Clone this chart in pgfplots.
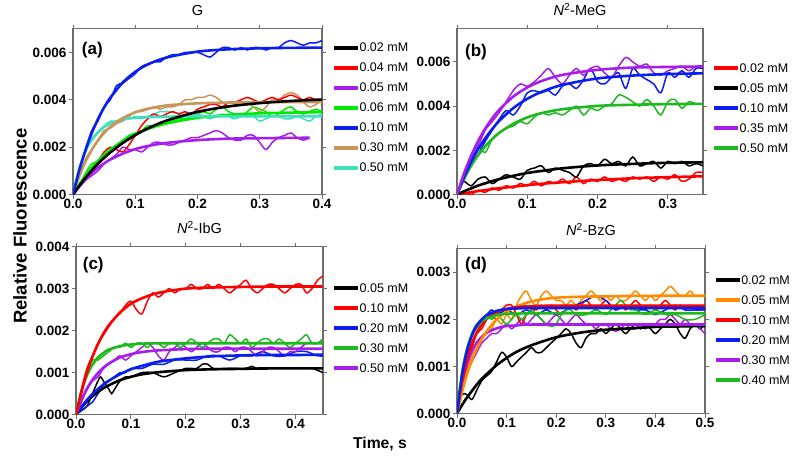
\documentclass[border=0pt]{standalone}
\usepackage{fontspec}
\setmainfont{Liberation Sans}
\usepackage{pgfplots}
\pgfplotsset{compat=1.18}
\definecolor{cpurple}{RGB}{165,30,235}
\definecolor{cgreenA}{RGB}{0,235,0}
\definecolor{cgreen}{RGB}{30,185,30}
\definecolor{cblue}{RGB}{10,30,240}
\definecolor{ctan}{RGB}{200,150,90}
\definecolor{cturq}{RGB}{64,224,190}
\definecolor{corange}{RGB}{255,140,0}
\definecolor{cred}{RGB}{255,0,0}
\definecolor{axgray}{RGB}{110,110,110}
\tikzset{plabel/.style={anchor=west, inner sep=0pt, font=\bfseries\fontsize{17}{20}\selectfont}}
\pgfplotsset{
  panel/.style={
    scale only axis, anchor=south west, clip=true,
    axis line style={axgray, line width=1.1pt},
    every tick/.style={axgray, line width=1pt},
    tick align=outside, major tick length=4pt,
    scaled ticks=false,
    /pgf/number format/assume math mode=true,
    ticklabel style={font=\bfseries\fontsize{13.5}{15}\selectfont, black},
    yticklabel style={/pgf/number format/fixed, /pgf/number format/fixed zerofill, /pgf/number format/precision=3, xshift=1pt},
    xticklabel style={/pgf/number format/fixed, /pgf/number format/fixed zerofill, /pgf/number format/precision=1, yshift=3pt},
    title style={font=\fontsize{14.5}{16}\selectfont, anchor=base, at={(0.5,1)}, yshift=7pt},
    legend style={draw=none, fill=none, font=\fontsize{12.5}{15}\selectfont, anchor=north west, inner sep=0pt, row sep=9pt, column sep=1pt, nodes={inner sep=1pt, text height=9pt, text depth=0pt}},
    legend cell align=left,
    legend image code/.code={\fill[#1] (0pt,-1.5pt) rectangle (23pt,1.5pt);},
  },
  noisy/.style={line width=1.5pt, forget plot, no markers, smooth},
  fitc/.style={line width=2.6pt, forget plot, no markers, smooth},
}
\begin{document}
\begin{tikzpicture}
\path (0pt,0pt) rectangle (800pt,458pt);
% ---------------- (a) G ----------------
\begin{axis}[panel, at={(73pt,265pt)}, width=249pt, height=166pt,
  xmin=0, xmax=0.4, ymin=0, ymax=0.007,
  xtick={0,0.1,0.2,0.3,0.4}, ytick={0,0.002,0.004,0.006},
  title={G}, legend style={at={(1.048,0.922)}}]
\addlegendimage{black}\addlegendentry{0.02 mM}
\addlegendimage{cred}\addlegendentry{0.04 mM}
\addlegendimage{cpurple}\addlegendentry{0.05 mM}
\addlegendimage{cgreenA}\addlegendentry{0.06 mM}
\addlegendimage{cblue}\addlegendentry{0.10 mM}
\addlegendimage{ctan}\addlegendentry{0.30 mM}
\addlegendimage{cturq}\addlegendentry{0.50 mM}
% noisy traces
\addplot[noisy, cpurple] coordinates {(0,0)(0.01,0.0003)(0.02,0.0006)(0.03,0.0008)(0.04,0.0010)(0.05,0.0013)(0.06,0.0015)(0.07,0.0017)(0.08,0.0020)(0.09,0.0019)(0.10,0.0019)(0.11,0.0018)(0.12,0.0020)(0.13,0.0022)(0.14,0.0022)(0.15,0.0021)(0.16,0.0021)(0.17,0.0022)(0.18,0.0023)(0.19,0.0024)(0.20,0.0024)(0.21,0.0025)(0.22,0.0026)(0.23,0.0027)(0.24,0.0026)(0.25,0.0024)(0.26,0.0023)(0.27,0.0023)(0.28,0.0025)(0.29,0.0025)(0.30,0.0022)(0.31,0.0019)(0.32,0.0022)(0.33,0.0024)(0.34,0.0025)(0.35,0.0026)(0.36,0.0024)(0.37,0.0023)(0.38,0.0024)};
\addplot[noisy, cgreenA] coordinates {(0,0)(0.01,0.0004)(0.02,0.0009)(0.03,0.0013)(0.04,0.0014)(0.05,0.0017)(0.06,0.0019)(0.07,0.0021)(0.08,0.0023)(0.09,0.0025)(0.10,0.0026)(0.11,0.0027)(0.12,0.0029)(0.13,0.0029)(0.14,0.0030)(0.15,0.0031)(0.16,0.0031)(0.17,0.0032)(0.18,0.0032)(0.19,0.0033)(0.20,0.0034)(0.21,0.0035)(0.22,0.0034)(0.23,0.0036)(0.24,0.0037)(0.25,0.0035)(0.26,0.0034)(0.27,0.0033)(0.28,0.0035)(0.29,0.0037)(0.30,0.0036)(0.31,0.0035)(0.32,0.0033)(0.33,0.0034)(0.34,0.0036)(0.35,0.0037)(0.36,0.0035)(0.37,0.0034)(0.38,0.0035)(0.39,0.0036)(0.40,0.0035)};
\addplot[noisy, cturq] coordinates {(0,0)(0.01,0.0011)(0.02,0.0019)(0.03,0.0023)(0.04,0.0026)(0.05,0.0029)(0.06,0.0031)(0.07,0.0031)(0.08,0.0032)(0.09,0.0032)(0.10,0.0033)(0.11,0.0032)(0.12,0.0033)(0.13,0.0034)(0.14,0.0035)(0.15,0.0035)(0.16,0.0035)(0.17,0.0034)(0.18,0.0033)(0.19,0.0033)(0.20,0.0034)(0.21,0.0033)(0.22,0.0032)(0.23,0.0033)(0.24,0.0034)(0.25,0.0033)(0.26,0.0032)(0.27,0.0033)(0.28,0.0034)(0.29,0.0033)(0.30,0.0031)(0.31,0.0032)(0.32,0.0033)(0.33,0.0033)(0.34,0.0032)(0.35,0.0032)(0.36,0.0033)(0.37,0.0032)(0.38,0.0031)(0.39,0.0033)(0.40,0.0034)};
\addplot[noisy, ctan] coordinates {(0,0)(0.01,0.0008)(0.02,0.0015)(0.03,0.0019)(0.04,0.0023)(0.05,0.0027)(0.06,0.0028)(0.07,0.0030)(0.08,0.0031)(0.09,0.0033)(0.10,0.0035)(0.11,0.0035)(0.12,0.0036)(0.13,0.0037)(0.14,0.0036)(0.15,0.0037)(0.16,0.0037)(0.17,0.0038)(0.18,0.0040)(0.19,0.0040)(0.20,0.0041)(0.21,0.0041)(0.22,0.0042)(0.23,0.0041)(0.24,0.0039)(0.25,0.0037)(0.26,0.0038)(0.27,0.0039)(0.28,0.0039)(0.29,0.0037)(0.30,0.0035)(0.31,0.0037)(0.32,0.0040)(0.33,0.0040)(0.34,0.0042)(0.35,0.0043)(0.36,0.0042)(0.37,0.0039)(0.38,0.0037)(0.39,0.0038)(0.40,0.0040)};
\addplot[noisy, cred] coordinates {(0,0)(0.01,0.0004)(0.02,0.0008)(0.03,0.0011)(0.04,0.0014)(0.05,0.0018)(0.06,0.0020)(0.07,0.0019)(0.08,0.0018)(0.09,0.0021)(0.10,0.0025)(0.11,0.0029)(0.12,0.0032)(0.13,0.0034)(0.14,0.0033)(0.15,0.0034)(0.16,0.0035)(0.17,0.0034)(0.18,0.0035)(0.19,0.0034)(0.20,0.0036)(0.21,0.0037)(0.22,0.0038)(0.23,0.0038)(0.24,0.0037)(0.25,0.0039)(0.26,0.0039)(0.27,0.0040)(0.28,0.0041)(0.29,0.0040)(0.30,0.0039)(0.31,0.0040)(0.32,0.0041)(0.33,0.0040)(0.34,0.0041)(0.35,0.0042)(0.36,0.0041)(0.37,0.0040)(0.38,0.0041)(0.39,0.0040)(0.40,0.0040)};
\addplot[noisy, cblue] coordinates {(0,0)(0.01,0.0011)(0.02,0.0019)(0.03,0.0027)(0.04,0.0031)(0.05,0.0037)(0.06,0.0040)(0.07,0.0046)(0.08,0.0047)(0.09,0.0049)(0.10,0.0051)(0.11,0.0054)(0.12,0.0055)(0.13,0.0056)(0.14,0.0056)(0.15,0.0058)(0.16,0.0059)(0.17,0.0059)(0.18,0.0060)(0.19,0.0060)(0.20,0.0060)(0.21,0.0059)(0.22,0.0058)(0.23,0.0060)(0.24,0.0062)(0.25,0.0062)(0.26,0.0061)(0.27,0.0062)(0.28,0.0061)(0.29,0.0062)(0.30,0.0062)(0.31,0.0061)(0.32,0.0062)(0.33,0.0062)(0.34,0.0064)(0.35,0.0065)(0.36,0.0064)(0.37,0.0063)(0.38,0.0064)(0.39,0.0064)(0.40,0.0065)};
% fits
\addplot[fitc, cpurple] coordinates {(0,0)(0.01,0.00035)(0.02,0.00066)(0.03,0.00091)(0.04,0.00114)(0.05,0.00132)(0.06,0.00148)(0.08,0.00173)(0.10,0.00192)(0.12,0.00205)(0.15,0.00218)(0.2,0.0023)(0.25,0.00236)(0.3,0.00238)(0.38,0.0024)};
\addplot[fitc, cgreenA] coordinates {(0,0)(0.01,0.00043)(0.02,0.0008)(0.03,0.00113)(0.04,0.00142)(0.05,0.00167)(0.06,0.0019)(0.08,0.00226)(0.10,0.00255)(0.12,0.00277)(0.15,0.003)(0.2,0.00324)(0.25,0.00336)(0.3,0.00343)(0.35,0.00346)(0.4,0.00348)};
\addplot[fitc, cturq] coordinates {(0,0)(0.01,0.00109)(0.02,0.00182)(0.03,0.00231)(0.04,0.00263)(0.05,0.00285)(0.06,0.0030)(0.08,0.00317)(0.10,0.00324)(0.12,0.00327)(0.15,0.00329)(0.2,0.0033)(0.3,0.0033)(0.4,0.0033)};
\addplot[fitc, ctan] coordinates {(0,0)(0.01,0.00077)(0.02,0.00139)(0.03,0.00188)(0.04,0.00228)(0.05,0.0026)(0.06,0.00286)(0.08,0.00323)(0.10,0.00347)(0.12,0.00362)(0.15,0.00376)(0.2,0.00385)(0.25,0.00388)(0.3,0.0039)(0.35,0.0039)(0.4,0.0039)};
\addplot[fitc, black] coordinates {(0,0)(0.01,0.00037)(0.02,0.00071)(0.03,0.00102)(0.04,0.0013)(0.05,0.00155)(0.06,0.00178)(0.08,0.00218)(0.10,0.00251)(0.12,0.00279)(0.15,0.00312)(0.2,0.00349)(0.25,0.00372)(0.3,0.00386)(0.35,0.00395)(0.4,0.00401)};
\addplot[fitc, cblue] coordinates {(0,0)(0.01,0.00102)(0.02,0.00187)(0.03,0.00259)(0.04,0.00318)(0.05,0.00368)(0.06,0.00409)(0.08,0.00473)(0.10,0.00518)(0.12,0.00549)(0.15,0.00578)(0.2,0.00603)(0.25,0.00613)(0.3,0.00617)(0.35,0.00619)(0.4,0.0062)};
\node[plabel] at (rel axis cs:0.035,0.873) {(a)};
\end{axis}
% ---------------- (b) N2-MeG ----------------
\begin{axis}[panel, at={(457pt,265pt)}, width=246pt, height=166pt,
  xmin=0, xmax=0.35, ymin=0, ymax=0.0075,
  xtick={0,0.1,0.2,0.3}, ytick={0,0.002,0.004,0.006},
  title={\textit{N}\textsuperscript{2}-MeG}, legend style={at={(1.045,0.798)}}]
\addlegendimage{cred}\addlegendentry{0.02 mM}
\addlegendimage{black}\addlegendentry{0.05 mM}
\addlegendimage{cblue}\addlegendentry{0.10 mM}
\addlegendimage{cpurple}\addlegendentry{0.35 mM}
\addlegendimage{cgreen}\addlegendentry{0.50 mM}
\addplot[noisy, cred] coordinates {(0,0)(0.01,0.0001)(0.02,0.0000)(0.03,0.0002)(0.04,0.0001)(0.05,0.0003)(0.06,0.0002)(0.07,0.0004)(0.08,0.0003)(0.09,0.0005)(0.10,0.0004)(0.11,0.0006)(0.12,0.0004)(0.13,0.0006)(0.14,0.0005)(0.15,0.0007)(0.16,0.0005)(0.17,0.0008)(0.18,0.0005)(0.19,0.0007)(0.20,0.0006)(0.21,0.0008)(0.22,0.0006)(0.23,0.0007)(0.24,0.0006)(0.25,0.0008)(0.26,0.0007)(0.27,0.0008)(0.28,0.0006)(0.29,0.0008)(0.30,0.0007)(0.31,0.0009)(0.32,0.0006)(0.33,0.0007)(0.34,0.0010)(0.35,0.0010)};
\addplot[noisy, black] coordinates {(0,0)(0.005,0.0004)(0.01,0.0006)(0.02,0.0004)(0.03,0.0007)(0.04,0.0008)(0.05,0.0005)(0.06,0.0007)(0.07,0.0009)(0.08,0.0008)(0.09,0.0007)(0.10,0.0011)(0.11,0.0012)(0.12,0.0013)(0.13,0.0010)(0.14,0.0012)(0.15,0.0011)(0.16,0.0010)(0.17,0.0008)(0.18,0.0013)(0.19,0.0014)(0.20,0.0013)(0.21,0.0016)(0.22,0.0014)(0.23,0.0015)(0.24,0.0013)(0.25,0.0017)(0.26,0.0013)(0.27,0.0014)(0.28,0.0015)(0.29,0.0012)(0.30,0.0015)(0.31,0.0014)(0.32,0.0015)(0.33,0.0013)(0.34,0.0014)(0.35,0.0013)};
\addplot[noisy, cgreen] coordinates {(0,0)(0.01,0.0007)(0.02,0.0018)(0.03,0.0022)(0.04,0.0019)(0.05,0.0025)(0.06,0.0028)(0.07,0.0030)(0.08,0.0031)(0.09,0.0033)(0.10,0.0032)(0.11,0.0035)(0.12,0.0037)(0.13,0.0036)(0.14,0.0037)(0.15,0.0036)(0.16,0.0038)(0.17,0.0040)(0.18,0.0036)(0.19,0.0039)(0.20,0.0038)(0.21,0.0040)(0.22,0.0041)(0.23,0.0045)(0.24,0.0044)(0.25,0.0042)(0.26,0.0040)(0.27,0.0043)(0.28,0.0040)(0.29,0.0036)(0.30,0.0042)(0.31,0.0043)(0.32,0.0039)(0.33,0.0042)(0.34,0.0041)(0.35,0.0041)};
\addplot[noisy, cblue] coordinates {(0,0)(0.01,0.0009)(0.02,0.0014)(0.03,0.0018)(0.04,0.0024)(0.05,0.0029)(0.06,0.0034)(0.07,0.0038)(0.08,0.0036)(0.09,0.0040)(0.10,0.0046)(0.11,0.0047)(0.12,0.0046)(0.13,0.0047)(0.14,0.0045)(0.15,0.0049)(0.16,0.0050)(0.17,0.0048)(0.18,0.0052)(0.19,0.0057)(0.20,0.0051)(0.21,0.0050)(0.22,0.0053)(0.23,0.0055)(0.24,0.0048)(0.25,0.0057)(0.26,0.0054)(0.27,0.0052)(0.28,0.0050)(0.29,0.0046)(0.30,0.0055)(0.31,0.0053)(0.32,0.0056)(0.33,0.0053)(0.34,0.0057)(0.35,0.0057)};
\addplot[noisy, cpurple] coordinates {(0,0)(0.01,0.0008)(0.02,0.0016)(0.03,0.0022)(0.04,0.0029)(0.05,0.0033)(0.06,0.0037)(0.07,0.0042)(0.08,0.0047)(0.09,0.0050)(0.10,0.0049)(0.11,0.0051)(0.12,0.0054)(0.13,0.0057)(0.14,0.0053)(0.15,0.0050)(0.16,0.0054)(0.17,0.0057)(0.18,0.0054)(0.19,0.0057)(0.20,0.0058)(0.21,0.0055)(0.22,0.0053)(0.23,0.0058)(0.24,0.0062)(0.25,0.0060)(0.26,0.0058)(0.27,0.0059)(0.28,0.0055)(0.29,0.0054)(0.30,0.0056)(0.31,0.0057)(0.32,0.0058)(0.33,0.0056)(0.34,0.0058)(0.35,0.0058)};
\addplot[fitc, cred] coordinates {(0,0)(0.01,0.000055)(0.02,0.00011)(0.03,0.00016)(0.04,0.0002)(0.05,0.00025)(0.06,0.00029)(0.08,0.00036)(0.10,0.00043)(0.12,0.00049)(0.15,0.00056)(0.2,0.00066)(0.25,0.00074)(0.3,0.00079)(0.35,0.00083)};
\addplot[fitc, black] coordinates {(0,0)(0.01,0.00015)(0.02,0.00028)(0.03,0.00041)(0.04,0.00051)(0.05,0.00061)(0.06,0.0007)(0.08,0.00085)(0.10,0.00098)(0.12,0.00107)(0.15,0.00119)(0.2,0.00132)(0.25,0.00139)(0.3,0.00144)(0.35,0.00146)};
\addplot[fitc, cgreen] coordinates {(0,0)(0.01,0.00071)(0.02,0.0013)(0.03,0.00178)(0.04,0.00218)(0.05,0.00251)(0.06,0.00279)(0.08,0.0032)(0.10,0.00349)(0.12,0.00368)(0.15,0.00386)(0.2,0.00401)(0.25,0.00406)(0.3,0.00409)(0.35,0.0041)};
\addplot[fitc, cblue] coordinates {(0,0)(0.01,0.00079)(0.02,0.00147)(0.03,0.00205)(0.04,0.00254)(0.05,0.00296)(0.06,0.00333)(0.08,0.00391)(0.10,0.00433)(0.12,0.00464)(0.15,0.00496)(0.2,0.00525)(0.25,0.00538)(0.3,0.00545)(0.35,0.00548)};
\addplot[fitc, cpurple] coordinates {(0,0)(0.01,0.00096)(0.02,0.00175)(0.03,0.00242)(0.04,0.00298)(0.05,0.00344)(0.06,0.00383)(0.08,0.00443)(0.10,0.00484)(0.12,0.00513)(0.15,0.00541)(0.2,0.00564)(0.25,0.00574)(0.3,0.00577)(0.35,0.00579)};
\node[plabel] at (rel axis cs:0.0325,0.861) {(b)};
\end{axis}
% ---------------- (c) N2-IbG ----------------
\begin{axis}[panel, at={(76pt,45pt)}, width=247pt, height=168pt,
  xmin=0, xmax=0.45, ymin=0, ymax=0.004,
  xtick={0,0.1,0.2,0.3,0.4}, ytick={0,0.001,0.002,0.003,0.004},
  title={\textit{N}\textsuperscript{2}-IbG}, legend style={at={(1.045,0.789)}}]
\addlegendimage{black}\addlegendentry{0.05 mM}
\addlegendimage{cred}\addlegendentry{0.10 mM}
\addlegendimage{cblue}\addlegendentry{0.20 mM}
\addlegendimage{cgreen}\addlegendentry{0.30 mM}
\addlegendimage{cpurple}\addlegendentry{0.50 mM}
\addplot[noisy, black] coordinates {(0,0)(0.01,0.0001)(0.02,0.0002)(0.03,0.0005)(0.04,0.0008)(0.045,0.0009)(0.05,0.0008)(0.06,0.0006)(0.065,0.0005)(0.07,0.0006)(0.08,0.0008)(0.09,0.0009)(0.10,0.0009)(0.12,0.0010)(0.14,0.0010)(0.16,0.0009)(0.18,0.0010)(0.20,0.0011)(0.22,0.0011)(0.23,0.0012)(0.24,0.0012)(0.25,0.0011)(0.27,0.0011)(0.29,0.0011)(0.31,0.0011)(0.32,0.00115)(0.33,0.0011)(0.35,0.0011)(0.37,0.0011)(0.39,0.0011)(0.41,0.0011)(0.43,0.0011)(0.45,0.0010)};
\addplot[noisy, cblue] coordinates {(0,0)(0.01,0.0001)(0.02,0.0002)(0.03,0.0003)(0.04,0.0005)(0.05,0.0007)(0.06,0.0008)(0.07,0.0009)(0.08,0.0010)(0.09,0.0010)(0.10,0.0011)(0.12,0.0011)(0.14,0.0012)(0.16,0.0012)(0.18,0.0013)(0.20,0.0013)(0.22,0.0013)(0.24,0.0014)(0.26,0.0014)(0.28,0.0013)(0.30,0.0014)(0.32,0.0014)(0.34,0.0015)(0.36,0.0014)(0.38,0.0014)(0.40,0.0015)(0.42,0.0015)(0.44,0.0014)(0.45,0.0014)};
\addplot[noisy, cpurple] coordinates {(0,0)(0.01,0.0003)(0.02,0.0006)(0.03,0.0008)(0.04,0.0009)(0.05,0.0011)(0.06,0.0012)(0.07,0.0013)(0.08,0.0014)(0.09,0.0013)(0.10,0.0014)(0.11,0.0015)(0.12,0.0016)(0.13,0.0017)(0.14,0.0016)(0.15,0.0014)(0.16,0.0013)(0.17,0.0015)(0.18,0.0016)(0.19,0.0017)(0.20,0.0016)(0.21,0.0015)(0.22,0.0016)(0.23,0.0017)(0.24,0.0016)(0.25,0.0015)(0.26,0.0015)(0.27,0.0016)(0.28,0.0016)(0.29,0.0015)(0.30,0.0016)(0.31,0.0016)(0.32,0.0015)(0.33,0.0014)(0.34,0.0015)(0.35,0.0016)(0.36,0.0016)(0.37,0.0015)(0.38,0.0014)(0.39,0.0015)(0.40,0.0015)(0.41,0.0016)(0.42,0.0017)(0.43,0.0017)(0.44,0.0017)(0.45,0.0018)};
\addplot[noisy, cgreen] coordinates {(0,0)(0.01,0.0005)(0.02,0.0010)(0.03,0.0013)(0.04,0.0013)(0.05,0.0014)(0.06,0.0015)(0.07,0.0016)(0.08,0.0016)(0.09,0.0017)(0.10,0.0016)(0.11,0.0017)(0.12,0.0017)(0.13,0.0016)(0.14,0.0017)(0.15,0.0017)(0.16,0.0016)(0.17,0.0017)(0.18,0.0017)(0.19,0.0016)(0.20,0.0017)(0.21,0.0018)(0.22,0.0017)(0.23,0.0016)(0.24,0.0017)(0.25,0.0018)(0.26,0.0018)(0.27,0.0017)(0.28,0.0019)(0.29,0.0018)(0.30,0.0017)(0.31,0.0018)(0.32,0.0016)(0.33,0.0017)(0.34,0.0018)(0.35,0.0018)(0.36,0.0017)(0.37,0.0018)(0.38,0.0017)(0.39,0.0016)(0.40,0.0017)(0.41,0.0018)(0.42,0.0019)(0.43,0.0017)(0.44,0.0017)(0.45,0.0018)};
\addplot[noisy, cred] coordinates {(0,0)(0.01,0.0006)(0.02,0.0011)(0.03,0.0014)(0.04,0.0017)(0.05,0.0019)(0.06,0.0021)(0.07,0.0023)(0.08,0.0024)(0.09,0.0026)(0.10,0.0027)(0.11,0.0025)(0.12,0.0024)(0.13,0.0027)(0.14,0.0029)(0.15,0.0028)(0.16,0.0029)(0.17,0.0030)(0.18,0.0029)(0.19,0.0030)(0.20,0.0030)(0.21,0.0031)(0.22,0.0030)(0.23,0.0030)(0.24,0.0031)(0.25,0.0030)(0.26,0.0031)(0.27,0.0030)(0.28,0.0029)(0.29,0.0030)(0.30,0.0031)(0.31,0.0032)(0.32,0.0030)(0.33,0.0029)(0.34,0.0030)(0.35,0.0031)(0.36,0.0031)(0.37,0.0030)(0.38,0.0029)(0.39,0.0030)(0.40,0.0031)(0.41,0.0031)(0.42,0.0029)(0.43,0.0030)(0.44,0.0032)(0.45,0.0033)};
\addplot[fitc, black] coordinates {(0,0)(0.01,0.00017)(0.02,0.00032)(0.03,0.00044)(0.04,0.00054)(0.05,0.00063)(0.06,0.0007)(0.08,0.00082)(0.10,0.0009)(0.12,0.00096)(0.15,0.00101)(0.2,0.00106)(0.25,0.00108)(0.3,0.00109)(0.35,0.0011)(0.45,0.0011)};
\addplot[fitc, cblue] coordinates {(0,0)(0.01,0.00019)(0.02,0.00035)(0.03,0.00049)(0.04,0.00061)(0.05,0.00072)(0.06,0.00081)(0.08,0.00096)(0.10,0.00108)(0.12,0.00116)(0.15,0.00126)(0.2,0.00134)(0.25,0.00139)(0.3,0.00141)(0.35,0.00142)(0.4,0.00142)(0.45,0.00143)};
\addplot[fitc, cpurple] coordinates {(0,0)(0.01,0.00035)(0.02,0.00062)(0.03,0.00083)(0.04,0.00099)(0.05,0.00112)(0.06,0.00122)(0.08,0.00136)(0.10,0.00144)(0.12,0.00149)(0.15,0.00153)(0.2,0.00156)(0.25,0.00157)(0.35,0.00157)(0.45,0.00157)};
\addplot[fitc, cgreen] coordinates {(0,0)(0.01,0.00056)(0.02,0.00094)(0.03,0.00119)(0.04,0.00136)(0.05,0.00147)(0.06,0.00155)(0.08,0.00163)(0.10,0.00167)(0.12,0.00169)(0.15,0.0017)(0.25,0.0017)(0.35,0.0017)(0.45,0.0017)};
\addplot[fitc, cred] coordinates {(0,0)(0.01,0.00055)(0.02,0.00101)(0.03,0.00138)(0.04,0.00168)(0.05,0.00193)(0.06,0.00213)(0.08,0.00243)(0.10,0.00264)(0.12,0.00277)(0.15,0.0029)(0.2,0.003)(0.25,0.00303)(0.3,0.00304)(0.35,0.00305)(0.45,0.00305)};
\node[plabel] at (rel axis cs:0.027,0.893) {(c)};
\end{axis}
% ---------------- (d) N2-BzG ----------------
\begin{axis}[panel, at={(457pt,46pt)}, width=248pt, height=165pt,
  xmin=0, xmax=0.5, ymin=0, ymax=0.0035,
  xtick={0,0.1,0.2,0.3,0.4,0.5}, ytick={0,0.001,0.002,0.003},
  title={\textit{N}\textsuperscript{2}-BzG}, title style={xshift=10pt},
  legend style={at={(1.043,0.845)}}]
\addlegendimage{black}\addlegendentry{0.02 mM}
\addlegendimage{corange}\addlegendentry{0.05 mM}
\addlegendimage{cred}\addlegendentry{0.10 mM}
\addlegendimage{cblue}\addlegendentry{0.20 mM}
\addlegendimage{cpurple}\addlegendentry{0.30 mM}
\addlegendimage{cgreen}\addlegendentry{0.40 mM}
\addplot[noisy, black] coordinates {(0,0)(0.01,0.0004)(0.02,0.0004)(0.03,0.0003)(0.04,0.0005)(0.05,0.0007)(0.06,0.0008)(0.07,0.0009)(0.08,0.0011)(0.09,0.0013)(0.10,0.0012)(0.11,0.0010)(0.12,0.0011)(0.13,0.0012)(0.14,0.0013)(0.15,0.0014)(0.16,0.0013)(0.17,0.0013)(0.18,0.0014)(0.19,0.0015)(0.20,0.0016)(0.21,0.0017)(0.22,0.0018)(0.23,0.0017)(0.24,0.0015)(0.25,0.0014)(0.26,0.0016)(0.27,0.0017)(0.28,0.0017)(0.29,0.0018)(0.30,0.0017)(0.31,0.0018)(0.32,0.0019)(0.33,0.0018)(0.34,0.0017)(0.35,0.0018)(0.36,0.0019)(0.37,0.0018)(0.38,0.0019)(0.39,0.0018)(0.40,0.0017)(0.41,0.0018)(0.42,0.0019)(0.43,0.0020)(0.44,0.0019)(0.45,0.0017)(0.46,0.0016)(0.47,0.0018)(0.48,0.0019)(0.49,0.0018)(0.50,0.0019)};
\addplot[noisy, cpurple] coordinates {(0,0)(0.01,0.0005)(0.02,0.0009)(0.03,0.0011)(0.04,0.0013)(0.05,0.0015)(0.06,0.0016)(0.07,0.0017)(0.08,0.0017)(0.09,0.0018)(0.10,0.0019)(0.11,0.0018)(0.12,0.0019)(0.13,0.0020)(0.14,0.0019)(0.15,0.0020)(0.16,0.0021)(0.17,0.0020)(0.18,0.0019)(0.19,0.0020)(0.20,0.0021)(0.21,0.0020)(0.22,0.0019)(0.23,0.0020)(0.24,0.0021)(0.25,0.0020)(0.26,0.0019)(0.27,0.0019)(0.28,0.0018)(0.29,0.0019)(0.30,0.0019)(0.31,0.0018)(0.32,0.00175)(0.33,0.0018)(0.34,0.0019)(0.35,0.0018)(0.36,0.0018)(0.37,0.0019)(0.38,0.0018)(0.39,0.0019)(0.40,0.0019)(0.41,0.0020)(0.42,0.0020)(0.43,0.0021)(0.44,0.0020)(0.45,0.0019)(0.46,0.0020)(0.47,0.0019)(0.48,0.0019)(0.49,0.0018)(0.50,0.0017)};
\addplot[noisy, corange] coordinates {(0,0)(0.01,0.0005)(0.02,0.0009)(0.03,0.0012)(0.04,0.0014)(0.05,0.0016)(0.06,0.0017)(0.07,0.0018)(0.08,0.0020)(0.09,0.0019)(0.10,0.0021)(0.11,0.0020)(0.12,0.0023)(0.13,0.0025)(0.14,0.0026)(0.15,0.0024)(0.16,0.0023)(0.17,0.0025)(0.18,0.0026)(0.19,0.0025)(0.20,0.0024)(0.21,0.0024)(0.22,0.0023)(0.23,0.0024)(0.24,0.0023)(0.25,0.0024)(0.26,0.0025)(0.27,0.0026)(0.28,0.0025)(0.29,0.0024)(0.30,0.0025)(0.31,0.0024)(0.32,0.0025)(0.33,0.0024)(0.34,0.0024)(0.35,0.0025)(0.36,0.0026)(0.37,0.0025)(0.38,0.0024)(0.39,0.0025)(0.40,0.0024)(0.41,0.0025)(0.42,0.0026)(0.43,0.0027)(0.44,0.0026)(0.45,0.0025)(0.46,0.0025)(0.47,0.0026)(0.48,0.0025)(0.49,0.0025)(0.50,0.0025)};
\addplot[noisy, cred] coordinates {(0,0)(0.01,0.0007)(0.02,0.0012)(0.03,0.0014)(0.04,0.0017)(0.05,0.0018)(0.06,0.0020)(0.07,0.0021)(0.08,0.0020)(0.09,0.0022)(0.10,0.0023)(0.11,0.0023)(0.12,0.0021)(0.13,0.0019)(0.14,0.0021)(0.15,0.0022)(0.16,0.0022)(0.17,0.0023)(0.18,0.0022)(0.19,0.0023)(0.20,0.0022)(0.21,0.0021)(0.22,0.0022)(0.23,0.0023)(0.24,0.0022)(0.25,0.0023)(0.26,0.0024)(0.27,0.0023)(0.28,0.0022)(0.29,0.0023)(0.30,0.0024)(0.31,0.0023)(0.32,0.0022)(0.33,0.0023)(0.34,0.0022)(0.35,0.0023)(0.36,0.0024)(0.37,0.0023)(0.38,0.0022)(0.39,0.0023)(0.40,0.0022)(0.41,0.0023)(0.42,0.0024)(0.43,0.0023)(0.44,0.0022)(0.45,0.0023)(0.46,0.0022)(0.47,0.0023)(0.48,0.0022)(0.49,0.0022)(0.50,0.0022)};
\addplot[noisy, cblue] coordinates {(0,0)(0.01,0.0008)(0.02,0.0013)(0.03,0.0017)(0.04,0.0019)(0.05,0.0020)(0.06,0.0021)(0.07,0.0022)(0.08,0.0021)(0.10,0.0022)(0.12,0.0021)(0.14,0.0022)(0.16,0.0021)(0.18,0.0022)(0.20,0.0021)(0.22,0.0022)(0.24,0.0023)(0.26,0.0024)(0.28,0.0025)(0.30,0.0024)(0.32,0.0022)(0.34,0.0023)(0.36,0.0022)(0.38,0.0022)(0.40,0.0021)(0.42,0.0022)(0.44,0.0023)(0.46,0.0022)(0.48,0.0022)(0.50,0.0022)};
\addplot[noisy, cgreen] coordinates {(0,0)(0.01,0.0009)(0.02,0.0014)(0.03,0.0017)(0.04,0.0019)(0.05,0.0020)(0.06,0.0021)(0.07,0.0020)(0.08,0.0021)(0.09,0.0020)(0.10,0.0019)(0.11,0.0020)(0.12,0.0021)(0.13,0.0020)(0.14,0.0021)(0.15,0.0022)(0.16,0.0021)(0.17,0.0020)(0.18,0.0019)(0.19,0.00185)(0.20,0.0019)(0.21,0.0021)(0.22,0.0022)(0.23,0.0022)(0.24,0.0021)(0.26,0.0021)(0.28,0.0022)(0.30,0.0021)(0.31,0.0022)(0.32,0.0023)(0.33,0.0024)(0.34,0.0023)(0.35,0.0022)(0.36,0.0022)(0.38,0.0021)(0.40,0.0022)(0.42,0.0021)(0.44,0.0021)(0.46,0.0020)(0.48,0.0020)(0.50,0.0021)};
\addplot[fitc, black] coordinates {(0,0)(0.01,0.00018)(0.02,0.00034)(0.03,0.00048)(0.04,0.00062)(0.05,0.00074)(0.06,0.00084)(0.08,0.00103)(0.10,0.00118)(0.12,0.00131)(0.15,0.00145)(0.2,0.00162)(0.25,0.00172)(0.3,0.00178)(0.35,0.00181)(0.4,0.00184)(0.45,0.00185)(0.5,0.00186)};
\addplot[fitc, cpurple] coordinates {(0,0)(0.01,0.00062)(0.02,0.00104)(0.03,0.00132)(0.04,0.00151)(0.05,0.00163)(0.06,0.00172)(0.08,0.00181)(0.10,0.00186)(0.12,0.00187)(0.15,0.00189)(0.3,0.00189)(0.5,0.00189)};
\addplot[fitc, corange] coordinates {(0,0)(0.01,0.00045)(0.02,0.00083)(0.03,0.00113)(0.04,0.00138)(0.05,0.00158)(0.06,0.00175)(0.08,0.002)(0.10,0.00216)(0.12,0.00227)(0.15,0.00238)(0.2,0.00246)(0.3,0.00249)(0.4,0.0025)(0.5,0.0025)};
\addplot[fitc, cred] coordinates {(0,0)(0.01,0.00068)(0.02,0.00115)(0.03,0.00149)(0.04,0.00172)(0.05,0.00189)(0.06,0.00201)(0.08,0.00215)(0.10,0.00222)(0.12,0.00226)(0.15,0.00228)(0.2,0.00229)(0.35,0.00229)(0.5,0.00229)};
\addplot[fitc, cgreen] coordinates {(0,0)(0.01,0.00084)(0.02,0.00135)(0.03,0.00166)(0.04,0.00184)(0.05,0.00196)(0.06,0.00202)(0.08,0.00209)(0.10,0.00212)(0.12,0.00212)(0.15,0.00213)(0.3,0.00213)(0.5,0.00213)};
\addplot[fitc, cblue] coordinates {(0,0)(0.01,0.00081)(0.02,0.00133)(0.03,0.00166)(0.04,0.00187)(0.05,0.002)(0.06,0.00209)(0.08,0.00218)(0.10,0.00222)(0.12,0.00223)(0.15,0.00224)(0.3,0.00224)(0.5,0.00224)};
\node[plabel] at (rel axis cs:0.032,0.903) {(d)};
\end{axis}
\node[rotate=90, font=\bfseries\fontsize{18.5}{20}\selectfont] at (20pt,233.5pt) {Relative Fluorescence};
\node[font=\bfseries\fontsize{15.7}{18}\selectfont] at (380pt,16pt) {Time, s};
\end{tikzpicture}
\end{document}
